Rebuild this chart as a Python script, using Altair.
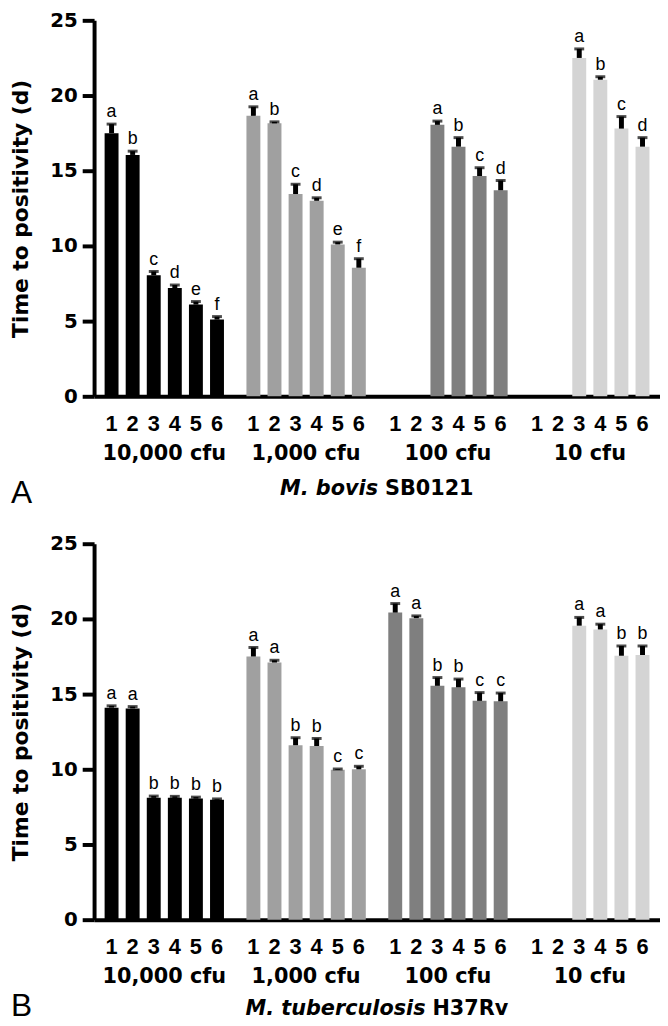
import altair as alt
import pandas as pd

groups = ["10,000 cfu", "1,000 cfu", "100 cfu", "10 cfu"]
bar_ids = ["1", "2", "3", "4", "5", "6"]
group_colors = ["#000000", "#a0a0a0", "#7f7f7f", "#d4d4d4"]
y_ticks = [0, 5, 10, 15, 20, 25]

# Panel A: M. bovis SB0121 (mean time to positivity, days)
a_mean_10000 = [17.5, 16.05, 8.05, 7.2, 6.1, 5.1]
a_mean_1000 = [18.65, 18.15, 13.45, 13.0, 10.1, 8.55]
a_mean_100 = [None, None, 18.05, 16.6, 14.65, 13.7]
a_mean_10 = [None, None, 22.5, 21.05, 17.8, 16.6]
a_err_10000 = [0.6, 0.25, 0.25, 0.2, 0.2, 0.2]
a_err_1000 = [0.6, 0.1, 0.65, 0.2, 0.15, 0.6]
a_err_100 = [None, None, 0.25, 0.6, 0.55, 0.65]
a_err_10 = [None, None, 0.6, 0.2, 0.8, 0.6]
a_let_10000 = ["a", "b", "c", "d", "e", "f"]
a_let_1000 = ["a", "b", "c", "d", "e", "f"]
a_let_100 = [None, None, "a", "b", "c", "d"]
a_let_10 = [None, None, "a", "b", "c", "d"]

# Panel B: M. tuberculosis H37Rv
b_mean_10000 = [14.1, 14.05, 8.1, 8.1, 8.05, 7.98]
b_mean_1000 = [17.5, 17.1, 11.6, 11.55, 9.97, 10.0]
b_mean_100 = [20.42, 20.05, 15.55, 15.45, 14.55, 14.52]
b_mean_10 = [None, None, 19.55, 19.3, 17.55, 17.6]
b_err_10000 = [0.12, 0.12, 0.12, 0.1, 0.1, 0.05]
b_err_1000 = [0.6, 0.15, 0.5, 0.5, 0.05, 0.2]
b_err_100 = [0.6, 0.15, 0.55, 0.55, 0.55, 0.55]
b_err_10 = [None, None, 0.55, 0.35, 0.65, 0.6]
b_let_10000 = ["a", "a", "b", "b", "b", "b"]
b_let_1000 = ["a", "a", "b", "b", "c", "c"]
b_let_100 = ["a", "a", "b", "b", "c", "c"]
b_let_10 = [None, None, "a", "a", "b", "b"]

Y_TITLE = "Time to positivity (d)"
BOLD = "DejaVu Sans"
ARIAL = "Liberation Sans"


def build(means, errs, letters):
    rows = []
    for g, ml, el, ll in zip(groups, means, errs, letters):
        for b, m, e, l in zip(bar_ids, ml, el, ll):
            if m is None:
                continue
            rows.append(dict(group=g, bar=b, mean=m, upper=m + e, letter=l))
    return pd.DataFrame(rows)


x_scale = alt.Scale(domain=groups, paddingInner=0.108, paddingOuter=0.049)
xo_scale = alt.Scale(domain=bar_ids, paddingInner=0.34, paddingOuter=0.17)
y_scale = alt.Scale(domain=[0, 25], nice=False, zero=True)
c_scale = alt.Scale(domain=groups, range=group_colors)

x_axis = alt.Axis(domain=True, domainWidth=4, domainColor="black", ticks=False,
                  labels=False, title=None, grid=False)
y_axis = alt.Axis(values=y_ticks, tickSize=12, tickWidth=4, domainWidth=4,
                  domainColor="black", tickColor="black", labelColor="black",
                  labelFont=BOLD, labelFontSize=20, labelFontWeight="bold",
                  labelPadding=5, title=Y_TITLE, titleFont=BOLD, titleFontSize=22,
                  titleFontWeight="bold", titleColor="black", titlePadding=17,
                  grid=False)


def panel(df, sub1, sub2, sub_split, sub_y, letter, letter_y):
    X = alt.X("group:N", scale=x_scale, axis=x_axis)
    XO = alt.XOffset("bar:N", scale=xo_scale)
    base = alt.Chart(df)
    bars = base.mark_bar().encode(
        x=X, xOffset=XO,
        y=alt.Y("mean:Q", scale=y_scale, axis=y_axis),
        color=alt.Color("group:N", scale=c_scale, legend=None),
    )
    stems = base.mark_rule(color="black", strokeWidth=5).encode(
        x=X, xOffset=XO,
        y=alt.Y("mean:Q", scale=y_scale, axis=y_axis), y2="upper:Q",
    )
    caps = base.mark_tick(color="black", thickness=3, size=10, orient="horizontal").encode(
        x=X, xOffset=XO, y=alt.Y("upper:Q", scale=y_scale, axis=y_axis),
    )
    lets = base.mark_text(font=ARIAL, fontSize=18, baseline="alphabetic", dy=-7,
                          color="black").encode(
        x=X, xOffset=XO, y=alt.Y("upper:Q", scale=y_scale, axis=y_axis),
        text="letter:N",
    )
    num_df = pd.DataFrame([dict(group=g, bar=b) for g in groups for b in bar_ids])
    nums = alt.Chart(num_df).mark_text(font=ARIAL, fontSize=22, fontWeight="bold",
                                       baseline="middle", color="black").encode(
        x=X, xOffset=XO, y=alt.value(408), text="bar:N",
    )
    glabels = alt.Chart(pd.DataFrame({"group": groups})).mark_text(
        font=BOLD, fontSize=21, fontWeight="bold", baseline="middle", color="black"
    ).encode(x=X, y=alt.value(438), text="group:N")
    s1 = alt.Chart(pd.DataFrame({"t": [sub1]})).mark_text(
        font=BOLD, fontSize=21, fontWeight="bold", fontStyle="italic",
        align="right", baseline="middle", color="black"
    ).encode(x=alt.value(sub_split), y=alt.value(sub_y), text="t:N")
    s2 = alt.Chart(pd.DataFrame({"t": [sub2]})).mark_text(
        font=BOLD, fontSize=21, fontWeight="bold",
        align="left", baseline="middle", color="black"
    ).encode(x=alt.value(sub_split + 7), y=alt.value(sub_y), text="t:N")
    pl = alt.Chart(pd.DataFrame({"t": [letter]})).mark_text(
        font=ARIAL, fontSize=32, align="left", baseline="middle", color="black"
    ).encode(x=alt.value(-84), y=alt.value(letter_y), text="t:N")
    return alt.layer(bars, stems, caps, lets, nums, glabels, s1, s2, pl).properties(
        width=572, height=380
    )


df_a = build([a_mean_10000, a_mean_1000, a_mean_100, a_mean_10],
             [a_err_10000, a_err_1000, a_err_100, a_err_10],
             [a_let_10000, a_let_1000, a_let_100, a_let_10])
df_b = build([b_mean_10000, b_mean_1000, b_mean_100, b_mean_10],
             [b_err_10000, b_err_1000, b_err_100, b_err_10],
             [b_let_10000, b_let_1000, b_let_100, b_let_10])

pa = panel(df_a, "M. bovis", "SB0121", 287, 474, "A", 478)
pb = panel(df_b, "M. tuberculosis", "H37Rv", 335, 470, "B", 467)

chart = alt.vconcat(pa, pb, spacing=149, bounds="flush").properties(
    padding={"left": 2, "top": -3, "right": 0, "bottom": 0}
).configure_view(stroke=None)

chart.save("out.html", embed_options={"renderer": "svg", "actions": False})
